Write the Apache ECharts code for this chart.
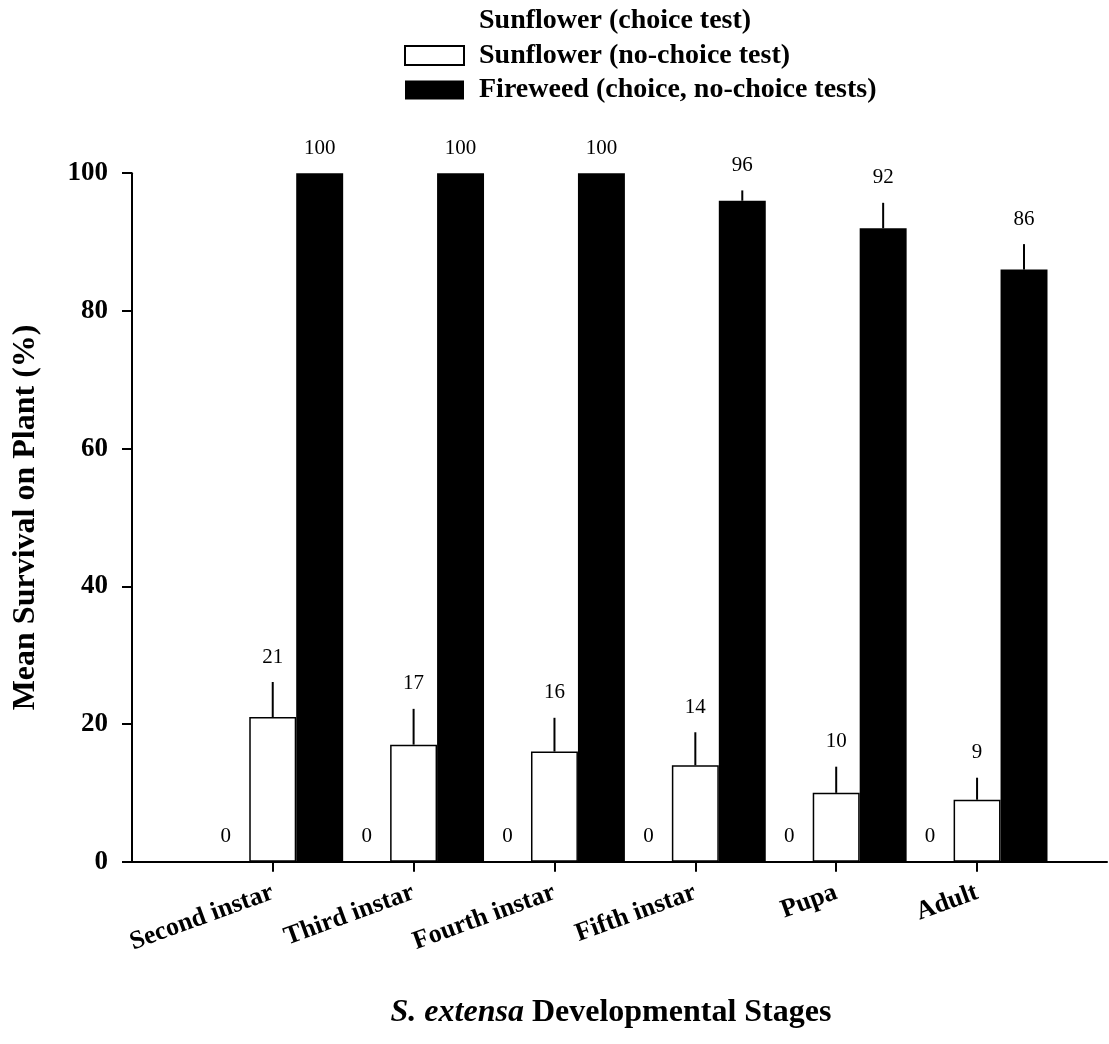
<!DOCTYPE html>
<html>
<head>
<meta charset="utf-8">
<title>S. extensa survival</title>
<script src="https://cdn.jsdelivr.net/npm/echarts@6/dist/echarts.min.js"></script>
<style>
  html, body { margin: 0; padding: 0; background: #fff; }
  #chart { width: 1109px; height: 1044px; }
</style>
</head>
<body>
<div id="chart"></div>
<script>
// Developmental stages on the x axis
const stages = ['Second instar', 'Third instar', 'Fourth instar', 'Fifth instar', 'Pupa', 'Adult'];

// Mean survival (%) and standard error for each host plant / test
const sunflowerChoice = [0, 0, 0, 0, 0, 0];
const sunflowerChoiceErr = [0, 0, 0, 0, 0, 0];
const sunflowerNoChoice = [21, 17, 16, 14, 10, 9];
const sunflowerNoChoiceErr = [5.1, 5.2, 4.9, 4.8, 3.8, 3.2];
const fireweed = [100, 100, 100, 96, 92, 86];
const fireweedErr = [0, 0, 0, 1.5, 3.7, 3.7];

// Y axis scale
const yMin = 0, yMax = 100, yStep = 20;

const seriesNames = [
  'Sunflower (choice test)',
  'Sunflower (no-choice test)',
  'Fireweed (choice, no-choice tests)'
];

const FONT = '"Liberation Serif", "Times New Roman", serif';

const chart = echarts.init(document.getElementById('chart'), null, { renderer: 'canvas' });

// Error bar + value label drawn above each bar; slot = bar position within the group
function errorRenderer(slot) {
  return function (params, api) {
    const i = api.value(0);
    const v = api.value(1);
    const e = api.value(2);
    const band = api.size([1, 0])[0];
    const bw = band / 3;
    const base = api.coord([i, v]);
    const top = api.coord([i, v + e]);
    const x = base[0] + slot * bw;
    const children = [];
    if (e > 0) {
      children.push({
        type: 'line',
        shape: { x1: x, y1: base[1], x2: x, y2: top[1] },
        style: { stroke: '#000', lineWidth: 2 }
      });
    }
    children.push({
      type: 'text',
      style: {
        text: String(v),
        x: x,
        y: top[1] - 25,
        align: 'center',
        verticalAlign: 'middle',
        fontSize: 21,
        fontFamily: FONT,
        fill: '#000'
      }
    });
    return { type: 'group', children: children };
  };
}

function errData(vals, errs) {
  return vals.map((v, i) => [i, v, errs[i]]);
}

const option = {
  animation: false,
  backgroundColor: '#fff',
  legend: {
    data: seriesNames,
    orient: 'vertical',
    left: 404,
    top: 7,
    padding: 0,
    itemWidth: 59,
    itemHeight: 19,
    itemGap: 6.5,
    icon: 'rect',
    textStyle: {
      fontFamily: FONT,
      fontWeight: 'bold',
      fontSize: 28,
      color: '#000',
      padding: [0, 0, 0, 10]
    }
  },
  grid: [
    // bars
    { left: 202.3, width: 845.2, top: 173.2, bottom: 182.3, containLabel: false, outerBoundsMode: 'none' },
    // axis frame
    { left: 132, right: 2, top: 173.2, bottom: 182.3, containLabel: false, outerBoundsMode: 'none' }
  ],
  xAxis: [
    {
      type: 'category',
      gridIndex: 0,
      data: stages,
      boundaryGap: true,
      axisLine: { show: false },
      axisTick: { show: true, alignWithLabel: true, length: 10, lineStyle: { color: '#000', width: 2 } },
      axisLabel: {
        rotate: 20,
        margin: 30,
        interval: 0,
        fontFamily: FONT,
        fontWeight: 'bold',
        fontSize: 26,
        color: '#000'
      },
      splitLine: { show: false }
    },
    {
      type: 'value',
      gridIndex: 1,
      min: 0,
      max: 1,
      axisLine: { show: true, lineStyle: { color: '#000', width: 2 } },
      axisTick: { show: false },
      axisLabel: { show: false },
      splitLine: { show: false }
    }
  ],
  yAxis: [
    {
      type: 'value',
      gridIndex: 0,
      min: yMin,
      max: yMax,
      interval: yStep,
      show: false,
      splitLine: { show: false }
    },
    {
      type: 'value',
      gridIndex: 1,
      min: yMin,
      max: yMax,
      interval: yStep,
      name: 'Mean Survival on Plant (%)',
      nameLocation: 'middle',
      nameRotate: 90,
      nameGap: 90,
      nameTextStyle: {
        fontFamily: FONT,
        fontWeight: 'bold',
        fontSize: 32,
        color: '#000'
      },
      axisLine: { show: true, lineStyle: { color: '#000', width: 2 } },
      axisTick: { show: true, inside: false, length: 10, lineStyle: { color: '#000', width: 2 } },
      axisLabel: {
        margin: 24,
        fontFamily: FONT,
        fontWeight: 'bold',
        fontSize: 27,
        color: '#000'
      },
      splitLine: { show: false }
    }
  ],
  series: [
    {
      name: seriesNames[0],
      type: 'bar',
      xAxisIndex: 0,
      yAxisIndex: 0,
      data: sunflowerChoice,
      barGap: '0%',
      barCategoryGap: '0%',
      itemStyle: { color: '#fff', borderWidth: 0 }
    },
    {
      name: seriesNames[1],
      type: 'bar',
      xAxisIndex: 0,
      yAxisIndex: 0,
      data: sunflowerNoChoice,
      barGap: '0%',
      barCategoryGap: '0%',
      itemStyle: { color: '#fff', borderColor: '#000', borderWidth: 1.5 }
    },
    {
      name: seriesNames[2],
      type: 'bar',
      xAxisIndex: 0,
      yAxisIndex: 0,
      data: fireweed,
      barGap: '0%',
      barCategoryGap: '0%',
      itemStyle: { color: '#000', borderWidth: 0 }
    },
    {
      type: 'custom',
      xAxisIndex: 0,
      yAxisIndex: 0,
      z: 5,
      renderItem: errorRenderer(-1),
      data: errData(sunflowerChoice, sunflowerChoiceErr)
    },
    {
      type: 'custom',
      xAxisIndex: 0,
      yAxisIndex: 0,
      z: 5,
      renderItem: errorRenderer(0),
      data: errData(sunflowerNoChoice, sunflowerNoChoiceErr)
    },
    {
      type: 'custom',
      xAxisIndex: 0,
      yAxisIndex: 0,
      z: 5,
      renderItem: errorRenderer(1),
      data: errData(fireweed, fireweedErr)
    }
  ],
  graphic: [
    {
      type: 'text',
      x: 611,
      y: 1013,
      style: {
        text: '{i|S. extensa}{b| Developmental Stages}',
        align: 'center',
        verticalAlign: 'middle',
        rich: {
          i: { fontFamily: FONT, fontWeight: 'bold', fontStyle: 'italic', fontSize: 32, fill: '#000' },
          b: { fontFamily: FONT, fontWeight: 'bold', fontSize: 32, fill: '#000' }
        }
      }
    }
  ]
};

chart.setOption(option);
</script>
</body>
</html>
